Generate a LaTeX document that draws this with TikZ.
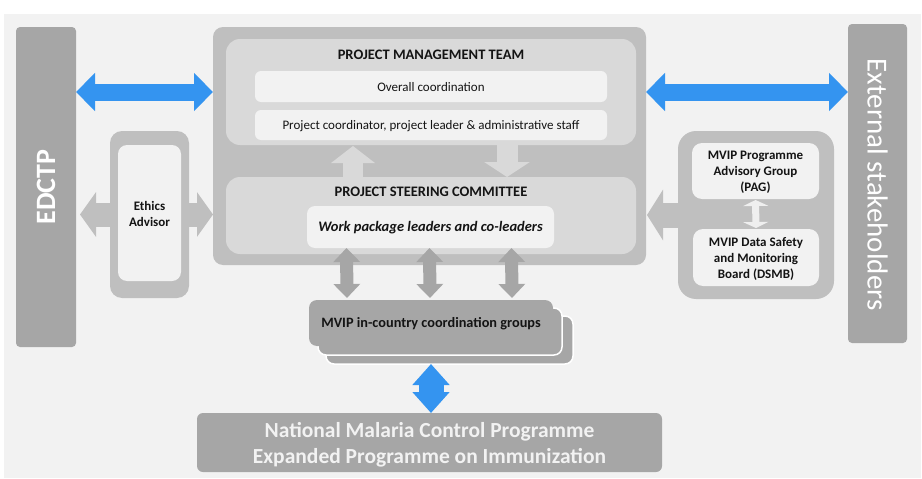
\documentclass[tikz,border=0pt]{standalone}
\usepackage{fontspec}
\setmainfont{Carlito}
\usetikzlibrary{arrows.meta,calc}
\definecolor{bgc}{HTML}{F2F2F2}
\definecolor{darkg}{HTML}{A6A6A6}
\definecolor{medg}{HTML}{BFBFBF}
\definecolor{lightg}{HTML}{D9D9D9}
\definecolor{paleg}{HTML}{F2F2F2}
\definecolor{arrowpale}{HTML}{EFEFEF}
\definecolor{txt}{HTML}{141414}
\definecolor{blueA}{RGB}{52,148,240}
\tikzset{
  box/.style={draw=none, inner sep=0pt, outer sep=0pt, anchor=north west},
  lbl/.style={inner sep=0pt, align=center, text=txt},
  fatdbl/.style n args={4}{line width=#1, draw=#4,
     arrows={Triangle[width=#2,length=#3]-Triangle[width=#2,length=#3]}},
  fatone/.style n args={4}{line width=#1, draw=#4,
     arrows={-Triangle[width=#2,length=#3]}},
}
\begin{document}
\begin{tikzpicture}[x=1pt,y=-1pt]
\useasboundingbox (0,0) rectangle (922,479);
\fill[bgc] (4,14) rectangle (921,478);

% side bars
\node[box, fill=darkg, rounded corners=4pt, minimum width=60pt, minimum height=320pt] (edctp) at (16,27) {};
\node[lbl, rotate=90, text=white, font=\fontsize{28}{32}\selectfont\bfseries] (edctplbl) at (edctp.center) {EDCTP};
\node[box, fill=darkg, rounded corners=4pt, minimum width=59pt, minimum height=319pt] (ext) at (848,24) {};
\node[lbl, rotate=-90, text=white, font=\fontsize{29}{33}\selectfont] (extlbl) at ([yshift=-1pt]ext.center) {External stakeholders};

% PMT outer and inner
\node[box, fill=medg, rounded corners=10pt, minimum width=433pt, minimum height=238pt] (pmtout) at (213,27) {};
\node[box, fill=lightg, rounded corners=14pt, minimum width=410pt, minimum height=106pt] (pmtin) at (226,39) {};
\node[lbl, font=\fontsize{14.5}{17}\selectfont\bfseries] (pmttitle) at (431,55) {PROJECT MANAGEMENT TEAM};
\node[box, fill=paleg, rounded corners=6pt, minimum width=352pt, minimum height=31pt] (ovr) at (255,71) {};
\node[lbl, font=\fontsize{13}{15}\selectfont] (ovrlbl) at ([yshift=-1pt]ovr.center) {Overall coordination};
\node[box, fill=paleg, rounded corners=6pt, minimum width=352pt, minimum height=30pt] (pcs) at (255,110) {};
\node[lbl, font=\fontsize{13}{15}\selectfont] (pcslbl) at ([yshift=-1pt]pcs.center) {Project coordinator, project leader \& administrative staff};

\node[box, fill=lightg, rounded corners=14pt, minimum width=410pt, minimum height=77pt] (psc) at (226,177) {};
\node[lbl, font=\fontsize{14.5}{17}\selectfont\bfseries] (psctitle) at (431,192) {PROJECT STEERING COMMITTEE};
\node[box, fill=paleg, rounded corners=8pt, minimum width=247pt, minimum height=42pt] (wp) at (307,206) {};
\node[lbl, font=\fontsize{14.5}{17}\selectfont\bfseries\itshape] (wplbl) at ([yshift=-1pt]wp.center) {Work package leaders and co-leaders};

% up / down arrows between PMT and PSC
\draw[fatone={20pt}{43pt}{17pt}{lightg}] ([xshift=-78pt]psc.north) -- ([xshift=-78pt,yshift=-1pt]pmtin.south);
\draw[fatone={21pt}{45pt}{15pt}{lightg}] ([xshift=76pt]pmtin.south) -- ([xshift=76pt]psc.north);

% blue arrows top
\draw[fatdbl={17pt}{37pt}{19pt}{blueA}] (edctp.east |- pmtin.center) -- (pmtout.west |- pmtin.center);
\draw[fatdbl={17pt}{37pt}{19pt}{blueA}] (pmtout.east |- pmtin.center) -- (ext.west |- pmtin.center);

% ethics
\node[box, fill=medg, rounded corners=12pt, minimum width=79pt, minimum height=167pt] (ethout) at (110,131) {};
\draw[fatdbl={24pt}{44pt}{16pt}{medg}] ([xshift=4pt]edctp.east |- ethout.center) -- (pmtout.west |- ethout.center);
\node[box, fill=paleg, rounded corners=9pt, minimum width=63pt, minimum height=136pt] (ethin) at (118,145) {};
\node[lbl, font=\fontsize{13}{16}\selectfont\bfseries] (ethlbl) at ([yshift=-1pt]ethin.center) {Ethics\\Advisor};

% right group
\draw[fatone={25pt}{50pt}{16pt}{medg}] (756,215) coordinate (rgc) -- ([xshift=1pt]pmtout.east |- rgc);
\node[box, fill=medg, rounded corners=18pt, minimum width=156pt, minimum height=168pt] (rg) at (678,131) {};
\node[box, fill=paleg, rounded corners=10pt, minimum width=127pt, minimum height=56pt] (pag) at (692,143) {};
\node[lbl, font=\fontsize{13}{16}\selectfont\bfseries] (paglbl) at ([yshift=-1pt]pag.center) {MVIP Programme\\Advisory Group\\(PAG)};
\node[box, fill=paleg, rounded corners=10pt, minimum width=126pt, minimum height=57pt] (dsmb) at (693,229) {};
\node[lbl, font=\fontsize{13}{16}\selectfont\bfseries] (dsmblbl) at ([yshift=-1pt]dsmb.center) {MVIP Data Safety\\and Monitoring\\Board (DSMB)};
\draw[fatdbl={7pt}{25pt}{6pt}{arrowpale}] ([yshift=-1pt]pag.south) -- ([yshift=1pt]dsmb.north);

% coordination groups stack
\node[box, fill=darkg, draw=white, line width=1.5pt, rounded corners=8pt, minimum width=247pt, minimum height=48pt] (cback) at (326,316) {};
\node[box, fill=darkg, draw=white, line width=1.5pt, rounded corners=8pt, minimum width=244pt, minimum height=47pt] (cmid) at (318,308) {};
\node[box, fill=darkg, rounded corners=8pt, minimum width=244pt, minimum height=46pt] (cfront) at (309,300) {};
\node[lbl, font=\fontsize{14.3}{17}\selectfont\bfseries] (cfrontlbl) at (431,324) {MVIP in-country coordination groups};

% three gray arrows
\draw[fatdbl={13pt}{26pt}{14pt}{darkg}] ([xshift=-84pt]wp.south) -- ([xshift=-84pt,yshift=2pt]cfront.north);
\draw[fatdbl={13pt}{26pt}{14pt}{darkg}] ([xshift=-1pt]wp.south) -- ([xshift=-1pt,yshift=2pt]cfront.north);
\draw[fatdbl={13pt}{26pt}{14pt}{darkg}] ([xshift=81pt]wp.south) -- ([xshift=81pt,yshift=2pt]cfront.north);

% bottom box
\node[box, fill=darkg, rounded corners=6pt, minimum width=465pt, minimum height=59pt] (nat) at (197,413) {};
\node[lbl, text=paleg, font=\fontsize{21.5}{26}\selectfont\bfseries] (natlbl) at ([yshift=-2pt]nat.center) {National Malaria Control Programme\\Expanded Programme on Immunization};
\draw[fatdbl={25pt}{36pt}{21pt}{blueA}] (cfront.south |- cback.south) -- (cfront.south |- nat.north);
\end{tikzpicture}
\end{document}
